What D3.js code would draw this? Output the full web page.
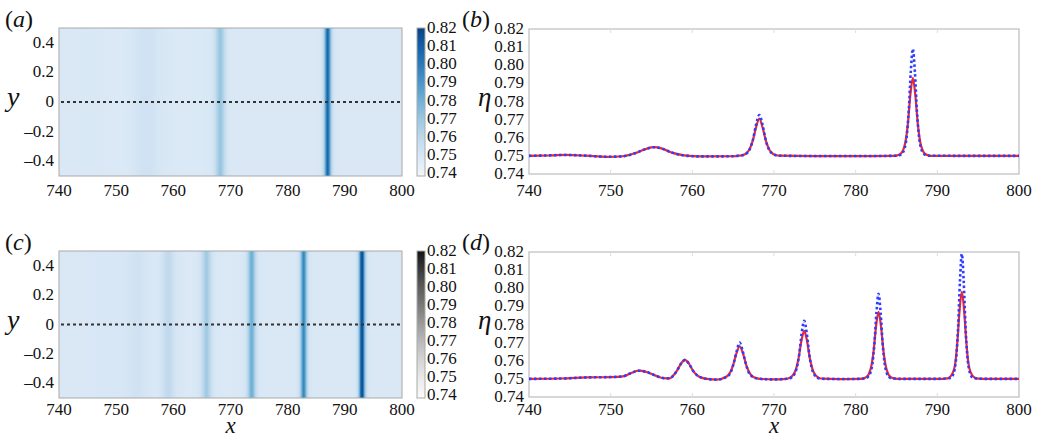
<!DOCTYPE html>
<html>
<head>
<meta charset="utf-8">
<script src="https://cdn.jsdelivr.net/npm/d3@7"></script>
<style>
  body { margin: 0; background: #fff; }
</style>
</head>
<body>
<div class="chart"></div>
<script>
// Tick labels
var xTicks = [740, 750, 760, 770, 780, 790, 800];
var yTicks = [0.4, 0.2, 0, -0.2, -0.4];
var etaTicks = [0.74, 0.75, 0.76, 0.77, 0.78, 0.79, 0.80, 0.81, 0.82];

// Panel (b): wave profile along y = 0, [x, eta]
var redB = [[740,0.7500],[742,0.7502],[744.5,0.7505],[747,0.7501],[749.5,0.7495],[751.5,0.7498],[753,0.7515],
  [754.3,0.7538],[755.3,0.7548],[756.3,0.7540],[757.5,0.7518],[759,0.7503],[761,0.7497],[765,0.7498],
  [765.7,0.7501],[766.2,0.7505],[766.6,0.7514],[767.0,0.7536],[767.4,0.7584],[767.8,0.7657],[768.2,0.7705],
  [768.6,0.7657],[769.0,0.7584],[769.4,0.7536],[769.8,0.7514],[770.2,0.7505],[770.7,0.7501],[775,0.7499],
  [782,0.7499],[784.6,0.7500],[785.1,0.7503],[785.5,0.7511],[785.8,0.7530],[786.1,0.7578],[786.4,0.7681],
  [786.7,0.7838],[787.0,0.7930],[787.3,0.7838],[787.6,0.7681],[787.9,0.7578],[788.2,0.7530],[788.5,0.7511],
  [788.9,0.7503],[789.4,0.7500],[795,0.7500],[800,0.7500]];
var blueB = [[740,0.7500],[742,0.7502],[744.5,0.7505],[747,0.7501],[749.5,0.7495],[751.5,0.7498],[753,0.7515],
  [754.3,0.7538],[755.3,0.7548],[756.3,0.7540],[757.5,0.7518],[759,0.7503],[761,0.7497],[765,0.7498],
  [765.7,0.7501],[766.2,0.7504],[766.6,0.7512],[767.0,0.7534],[767.4,0.7585],[767.8,0.7671],[768.2,0.7725],
  [768.6,0.7671],[769.0,0.7585],[769.4,0.7534],[769.8,0.7512],[770.2,0.7504],[770.7,0.7501],[775,0.7499],
  [782,0.7499],[785.0,0.7501],[785.5,0.7506],[785.75,0.7516],[786.0,0.7542],[786.25,0.7607],[786.5,0.7748],
  [786.75,0.7964],[787.0,0.8090],[787.25,0.7964],[787.5,0.7748],[787.75,0.7607],[788.0,0.7542],[788.25,0.7516],
  [788.5,0.7506],[789.0,0.7501],[795,0.7500],[800,0.7500]];

// Panel (d)
var redD = [[740,0.7500],[744,0.7502],[747,0.7508],[750,0.7510],[751.5,0.7514],[752.5,0.7532],[753.4,0.7545],
  [754.4,0.7538],[755.5,0.7518],[756.5,0.7504],[757.2,0.7503],[757.6,0.7515],[758.1,0.7544],[758.6,0.7583],
  [759.1,0.7605],[759.6,0.7583],[760.1,0.7544],[760.6,0.7519],[761.1,0.7507],[761.8,0.7500],[763,0.7496],
  [764.2,0.7513],[764.6,0.7533],[765.0,0.7576],[765.4,0.7641],[765.8,0.7680],[766.2,0.7641],[766.6,0.7576],
  [767.0,0.7533],[767.4,0.7513],[767.8,0.7505],[768.3,0.7500],[770,0.7497],[771.5,0.7500],[771.95,0.7507],
  [772.3,0.7519],[772.65,0.7548],[773.0,0.7611],[773.35,0.7708],[773.7,0.7765],[774.05,0.7708],[774.4,0.7611],
  [774.75,0.7548],[775.1,0.7519],[775.45,0.7507],[775.9,0.7501],[778,0.7499],[780.5,0.7500],[780.9,0.7503],
  [781.3,0.7510],[781.6,0.7526],[781.9,0.7567],[782.2,0.7655],[782.5,0.7791],[782.8,0.7870],[783.1,0.7791],
  [783.4,0.7655],[783.7,0.7567],[784.0,0.7526],[784.3,0.7510],[784.7,0.7503],[785.5,0.7500],[790,0.7500],
  [791.25,0.7503],[791.6,0.7513],[791.9,0.7534],[792.2,0.7587],[792.45,0.7702],[792.72,0.7877],[793.0,0.7980],
  [793.28,0.7877],[793.55,0.7702],[793.8,0.7587],[794.1,0.7534],[794.4,0.7513],[794.75,0.7503],[796,0.7500],
  [800,0.7500]];
var blueD = [[740,0.7500],[744,0.7502],[747,0.7508],[750,0.7510],[751.5,0.7514],[752.5,0.7532],[753.4,0.7545],
  [754.4,0.7538],[755.5,0.7518],[756.5,0.7504],[757.2,0.7503],[757.6,0.7515],[758.1,0.7544],[758.6,0.7583],
  [759.1,0.7605],[759.6,0.7583],[760.1,0.7544],[760.6,0.7519],[761.1,0.7507],[761.8,0.7500],[763,0.7496],
  [763.9,0.7505],[764.3,0.7514],[764.7,0.7536],[765.05,0.7584],[765.43,0.7652],[765.8,0.7700],[766.17,0.7652],
  [766.55,0.7584],[766.9,0.7536],[767.3,0.7514],[767.7,0.7505],[768.2,0.7501],[770,0.7497],[771.7,0.7501],
  [772.15,0.7508],[772.46,0.7523],[772.77,0.7558],[773.08,0.7634],[773.39,0.7752],[773.7,0.7820],[774.01,0.7752],
  [774.32,0.7634],[774.63,0.7558],[774.94,0.7523],[775.25,0.7508],[775.7,0.7501],[778,0.7499],[780.5,0.7500],
  [781.2,0.7503],[781.55,0.7513],[781.8,0.7533],[782.05,0.7585],[782.3,0.7697],[782.55,0.7869],[782.8,0.7970],
  [783.05,0.7869],[783.3,0.7697],[783.55,0.7585],[783.8,0.7533],[784.05,0.7513],[784.4,0.7503],[785.5,0.7500],
  [790,0.7500],[791.6,0.7505],[791.875,0.7518],[792.1,0.7549],[792.325,0.7625],[792.55,0.7790],[792.775,0.8042],
  [793.0,0.8190],[793.225,0.8042],[793.45,0.7790],[793.675,0.7625],[793.9,0.7549],[794.125,0.7518],[794.4,0.7505],
  [796,0.7500],[800,0.7500]];

var width = 1038, height = 438;
var svg = d3.select(".chart").append("svg")
    .attr("width", width)
    .attr("height", height);
var defs = svg.append("defs");

var blueColor = d3.scaleSequential(d3.interpolateBlues).domain([0.737, 0.826]);
var greyColor = d3.scaleSequential(d3.interpolateGreys).domain([0.737, 0.826]);

function fmt2(v) { return d3.format(".2f")(v); }
function fmtY(v) { return v === 0 ? "0" : (v < 0 ? "\u2013" + d3.format(".1f")(-v) : d3.format(".1f")(v)); }

// every label in Times-like serif
function serif(sel) {
    return sel.style("font-family", "Liberation Serif").attr("fill", "#111");
}

// Colour map of eta(x), uniform in y, with its colour bar
function drawMap(id, box, series, cbColor, tickGap) {
    var x = d3.scaleLinear().domain([740, 800]).range([box.x0, box.x1]);
    var y = d3.scaleLinear().domain([-0.5, 0.5]).range([box.y1, box.y0]);

    var grad = defs.append("linearGradient").attr("id", id)
        .attr("gradientUnits", "userSpaceOnUse")
        .attr("x1", x(740)).attr("x2", x(800)).attr("y1", 0).attr("y2", 0);
    grad.selectAll("stop").data(series).enter().append("stop")
        .attr("offset", d => (d[0] - 740) / 60)
        .attr("stop-color", d => blueColor(d[1]));

    var g = svg.append("g");
    g.append("rect").attr("x", x(740)).attr("y", y(0.5))
        .attr("width", x(800) - x(740)).attr("height", y(-0.5) - y(0.5))
        .attr("fill", "url(#" + id + ")");

    // y = 0 cut
    g.append("line").attr("x1", x(740) + 2).attr("x2", x(800))
        .attr("y1", y(0)).attr("y2", y(0))
        .attr("stroke", "#333").attr("stroke-width", 2).attr("stroke-dasharray", "3,3");

    g.append("rect").attr("x", x(740)).attr("y", y(0.5))
        .attr("width", x(800) - x(740)).attr("height", y(-0.5) - y(0.5))
        .attr("fill", "none").attr("stroke", "#a8a8a8").attr("stroke-width", 1);

    serif(g.selectAll(".xt").data(xTicks).enter().append("text"))
        .attr("x", d => x(d)).attr("y", box.y1 + tickGap)
        .attr("text-anchor", "middle").attr("font-size", 17).text(d => d);
    serif(g.selectAll(".yt").data(yTicks).enter().append("text"))
        .attr("x", box.x0 - 5).attr("y", d => y(d) + 5)
        .attr("text-anchor", "end").attr("font-size", 17).text(fmtY);

    // colour bar
    var cb = d3.scaleLinear().domain([0.74, 0.82]).range([box.y1, box.y0]);
    var cgrad = defs.append("linearGradient").attr("id", id + "cb")
        .attr("x1", 0).attr("x2", 0).attr("y1", 1).attr("y2", 0);
    cgrad.selectAll("stop").data(etaTicks).enter().append("stop")
        .attr("offset", (d, i) => i / (etaTicks.length - 1))
        .attr("stop-color", d => cbColor(d));
    g.append("rect").attr("x", box.cb).attr("y", cb(0.82))
        .attr("width", 8).attr("height", cb(0.74) - cb(0.82))
        .attr("fill", "url(#" + id + "cb)").attr("stroke", "#aaa").attr("stroke-width", 1);
    var tl = d3.scaleLinear().domain([0.74, 0.82]).range([box.y1 - 3, box.y0]);
    serif(g.selectAll(".ct").data(etaTicks).enter().append("text"))
        .attr("x", box.cb + 10).attr("y", d => tl(d) + 5)
        .attr("font-size", 17).text(fmt2);

    serif(g.append("text")).attr("x", box.x0 - 52).attr("y", y(0) + 4)
        .attr("font-size", 28).attr("font-style", "italic").text("y");
}

// Line profiles of eta along y = 0
function drawProfile(box, red, blue, tickGap) {
    var x = d3.scaleLinear().domain([740, 800]).range([box.x0, box.x1]);
    var y = d3.scaleLinear().domain([0.74, 0.82]).range([box.y1, box.y0]);
    var g = svg.append("g");

    g.append("rect").attr("x", box.x0).attr("y", box.y0)
        .attr("width", box.x1 - box.x0).attr("height", box.y1 - box.y0)
        .attr("fill", "none").attr("stroke", "#bdbdbd").attr("stroke-width", 1.2);

    // faint inner ticks
    g.selectAll(".tb").data(xTicks.slice(1, -1)).enter().append("line")
        .attr("x1", d => x(d)).attr("x2", d => x(d))
        .attr("y1", box.y1).attr("y2", box.y1 - 4).attr("stroke", "#ddd");
    g.selectAll(".tt").data(xTicks.slice(1, -1)).enter().append("line")
        .attr("x1", d => x(d)).attr("x2", d => x(d))
        .attr("y1", box.y0).attr("y2", box.y0 + 4).attr("stroke", "#ddd");

    var line = d3.line().x(d => x(d[0])).y(d => y(d[1])).curve(d3.curveMonotoneX);
    g.append("path").datum(red).attr("d", line)
        .attr("fill", "none").attr("stroke", "#f2262b").attr("stroke-width", 2.2);
    g.append("path").datum(blue).attr("d", line)
        .attr("fill", "none").attr("stroke", "#2f3cff").attr("stroke-width", 2.6)
        .attr("stroke-dasharray", "2.5,2.5");

    serif(g.selectAll(".xt").data(xTicks).enter().append("text"))
        .attr("x", d => x(d)).attr("y", box.y1 + tickGap)
        .attr("text-anchor", "middle").attr("font-size", 17).text(d => d);
    serif(g.selectAll(".yt").data(etaTicks).enter().append("text"))
        .attr("x", box.x0 - 5).attr("y", d => y(d) + 5)
        .attr("text-anchor", "end").attr("font-size", 17).text(fmt2);

    serif(g.append("text")).attr("x", box.x0 - 51).attr("y", (box.y0 + box.y1) / 2 + 4)
        .attr("font-size", 27).attr("font-style", "italic").text("\u03b7");
}

function panelLabel(px, py, letter) {
    var t = serif(svg.append("text")).attr("x", px).attr("y", py).attr("font-size", 24);
    t.append("tspan").text("(");
    t.append("tspan").attr("font-style", "italic").text(letter);
    t.append("tspan").text(")");
}

drawMap("mapA", {x0: 59, x1: 402, y0: 28, y1: 176, cb: 417}, blueB, blueColor, 20);
drawMap("mapC", {x0: 59, x1: 402, y0: 251, y1: 398, cb: 417}, blueD, greyColor, 17);
drawProfile({x0: 529, x1: 1019, y0: 29, y1: 174}, redB, blueB, 22);
drawProfile({x0: 529, x1: 1019, y0: 252, y1: 397}, redD, blueD, 18);

panelLabel(5, 27, "a");
panelLabel(462, 27, "b");
panelLabel(5, 250, "c");
panelLabel(462, 250, "d");

serif(svg.append("text")).attr("x", (59 + 402) / 2).attr("y", 433).attr("text-anchor", "middle")
    .attr("font-size", 23).attr("font-style", "italic").text("x");
serif(svg.append("text")).attr("x", (529 + 1019) / 2).attr("y", 433).attr("text-anchor", "middle")
    .attr("font-size", 23).attr("font-style", "italic").text("x");
</script>
</body>
</html>
